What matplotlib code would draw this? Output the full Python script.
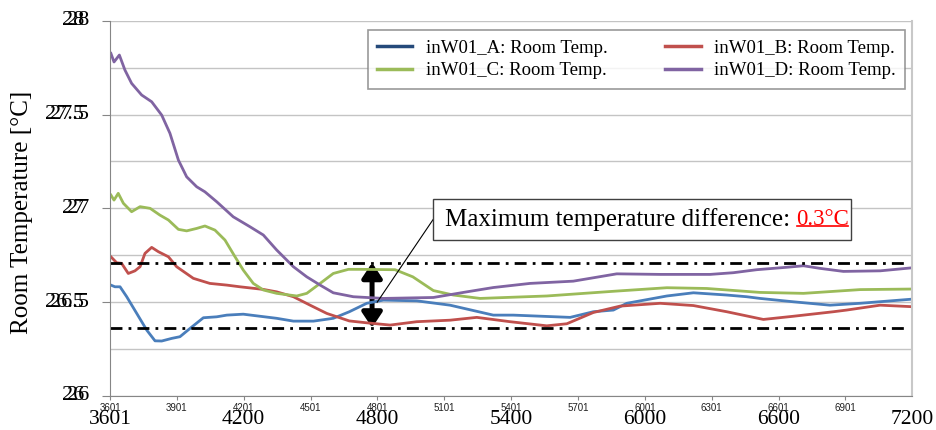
import numpy as np
import matplotlib
matplotlib.use("Agg")
import matplotlib.pyplot as plt
from matplotlib.lines import Line2D
from matplotlib.patches import Rectangle, FancyArrowPatch

# ---- data ----
t_a = [3605, 3623, 3646, 3676, 3721, 3766, 3803, 3833, 3878, 3915, 3960, 4020, 4080,
       4125, 4199, 4274, 4349, 4424, 4514, 4603, 4675, 4753, 4828, 4978, 5127, 5321,
       5411, 5666, 5770, 5860, 5920, 6040, 6100, 6219, 6369, 6458, 6518, 6668, 6832,
       6967, 7199]
temp_a = [26.591, 26.582, 26.582, 26.529, 26.440, 26.351, 26.294, 26.293, 26.307,
          26.316, 26.360, 26.417, 26.422, 26.431, 26.436, 26.425, 26.414, 26.399,
          26.399, 26.414, 26.449, 26.494, 26.511, 26.507, 26.484, 26.431, 26.431,
          26.419, 26.449, 26.458, 26.494, 26.520, 26.533, 26.550, 26.538, 26.529,
          26.520, 26.502, 26.484, 26.494, 26.516]

t_b = [3605, 3631, 3653, 3683, 3713, 3736, 3758, 3788, 3818, 3863, 3900, 3975, 4049,
       4125, 4184, 4289, 4349, 4424, 4499, 4574, 4675, 4753, 4858, 4978, 5127, 5247,
       5396, 5561, 5651, 5770, 5890, 6070, 6219, 6369, 6533, 6668, 6847, 6907, 7057,
       7199]
temp_b = [26.742, 26.710, 26.707, 26.653, 26.667, 26.689, 26.760, 26.792, 26.769,
          26.742, 26.689, 26.627, 26.600, 26.591, 26.582, 26.568, 26.555, 26.529,
          26.484, 26.440, 26.400, 26.390, 26.378, 26.396, 26.404, 26.419, 26.396,
          26.374, 26.385, 26.445, 26.479, 26.494, 26.482, 26.449, 26.408, 26.425,
          26.449, 26.458, 26.484, 26.476]

t_c = [3605, 3619, 3638, 3661, 3698, 3736, 3781, 3825, 3863, 3908, 3945, 3990, 4027,
       4072, 4117, 4162, 4199, 4244, 4289, 4349, 4439, 4484, 4544, 4603, 4671, 4723,
       4880, 4960, 5052, 5142, 5262, 5561, 5860, 6100, 6279, 6518, 6713, 6967, 7199]
temp_c = [27.071, 27.044, 27.080, 27.027, 26.982, 27.009, 27.000, 26.964, 26.938,
          26.888, 26.880, 26.893, 26.906, 26.884, 26.831, 26.742, 26.671, 26.600,
          26.565, 26.547, 26.533, 26.547, 26.600, 26.653, 26.675, 26.675, 26.673,
          26.635, 26.562, 26.538, 26.520, 26.533, 26.558, 26.577, 26.573, 26.552,
          26.547, 26.567, 26.570]

t_d = [3605, 3619, 3643, 3668, 3698, 3743, 3788, 3833, 3870, 3908, 3945, 3990, 4027,
       4080, 4154, 4229, 4289, 4349, 4424, 4484, 4544, 4603, 4693, 4828, 5052, 5202,
       5321, 5486, 5680, 5875, 6070, 6294, 6398, 6503, 6638, 6713, 6788, 6892, 7057,
       7199]
temp_d = [27.826, 27.780, 27.817, 27.737, 27.666, 27.604, 27.568, 27.497, 27.400,
          27.257, 27.168, 27.115, 27.088, 27.035, 26.955, 26.902, 26.858, 26.778,
          26.689, 26.635, 26.591, 26.550, 26.529, 26.520, 26.525, 26.555, 26.578,
          26.600, 26.612, 26.651, 26.648, 26.648, 26.657, 26.673, 26.686, 26.694,
          26.680, 26.664, 26.667, 26.683]

series_names = ["inW01_A: Room Temp.", "inW01_B: Room Temp.",
                "inW01_C: Room Temp.", "inW01_D: Room Temp."]
line_colors = ["#4a7ebb", "#c0504d", "#9bbb59", "#8064a2"]
legend_colors = ["#254a7a", "#c0504d", "#9bbb59", "#8064a2"]

upper_level = 26.71
lower_level = 26.364
arrow_t = 4777
small_ticks = np.arange(3601, 7200, 300)
big_ticks = [3601, 4200, 4800, 5400, 6000, 6600, 7200]
y_ticks = [26, 26.5, 27, 27.5, 28]
y_tick_text = ["26", "26.5", "27", "27.5", "28"]

serif = ["Liberation Serif", "DejaVu Serif"]

fig = plt.figure(figsize=(9.36, 4.30), dpi=100)
ax = fig.add_axes([110 / 936, 1 - 396 / 430, 802 / 936, (396 - 20.7) / 430])

ax.set_xlim(3601, 7200)
ax.set_ylim(26, 28)

# gridlines every 0.25
ax.set_yticks(np.arange(26, 28.01, 0.25), minor=True)
ax.grid(True, axis="y", which="both", color="#c4c4c4", linewidth=1.0)
ax.set_axisbelow(True)

for tt, vv, c in zip([t_a, t_b, t_c, t_d], [temp_a, temp_b, temp_c, temp_d], line_colors):
    ax.plot(tt, vv, color=c, linewidth=2.0, solid_joinstyle="round")

# dash-dot reference levels
for lv in (upper_level, lower_level):
    ax.plot([3601, 7170], [lv, lv], color="black", linewidth=2.0,
            linestyle=(0, (4.3, 2.2, 1.0, 2.2)))

# double-headed arrow
arr = FancyArrowPatch((arrow_t, lower_level), (arrow_t, upper_level),
                      arrowstyle="<|-|>,head_length=0.45,head_width=0.3",
                      mutation_scale=20, linewidth=3.6, color="black",
                      shrinkA=0, shrinkB=0)
ax.add_patch(arr)

# leader line and annotation box
box_y0, box_y1 = 26.831, 27.050
box_mid = (box_y0 + box_y1) / 2
ax.plot([4800, 5051], [26.5, box_mid], color="black", linewidth=0.8)
ax.add_patch(Rectangle((5051, box_y0), 6927 - 5051, box_y1 - box_y0,
                       facecolor="white", edgecolor="#404040", linewidth=1.0,
                       zorder=5))
t1 = ax.text(5105, box_mid, "Maximum temperature difference:", family=serif,
             fontsize=18, va="center", ha="left", zorder=6)
fig.canvas.draw()
r = fig.canvas.get_renderer()
bb = t1.get_window_extent(r)
inv = ax.transData.inverted()
x_end = inv.transform((bb.x1 + 6, bb.y0))[0]
t2 = ax.text(x_end, box_mid, "0.3\u00b0C", family=serif, fontsize=16.5,
             color="red", va="center", ha="left", zorder=6)
fig.canvas.draw()
bb2 = t2.get_window_extent(r)
(ux0, uy), (ux1, _) = inv.transform([(bb2.x0 + 1, bb2.y0 + 4), (bb2.x1 - 1, bb2.y0)])
ax.plot([ux0, ux1], [uy, uy], color="red", linewidth=1.2, zorder=7)

# axes styling
for s in ("left", "bottom"):
    ax.spines[s].set_color("#868686")
ax.spines["top"].set_visible(False)
ax.spines["right"].set_color("#c8c8c8")
ax.spines["right"].set_linewidth(1.5)

ax.set_yticks(y_ticks)
ax.set_yticklabels([])
ax.tick_params(axis="y", which="major", length=6, color="#868686", direction="out")
ax.tick_params(axis="y", which="minor", length=0)

ax.set_xticks(small_ticks)
ax.set_xticklabels([str(v) for v in small_ticks], fontsize=7,
                   family="Liberation Sans", color="#202020")
ax.tick_params(axis="x", length=3, color="#868686", pad=2)

# large secondary labels (drawn twice on y like the source chart)
for v in big_ticks:
    ax.text(v, -0.062, str(v), transform=ax.get_xaxis_transform(),
            family=serif, fontsize=15.5, ha="center", va="center")
for v, lab in zip(y_ticks, y_tick_text):
    ax.text(-0.026, v, lab, transform=ax.get_yaxis_transform(),
            family=serif, fontsize=16, ha="right", va="center")
    ax.text(-0.032, v, lab, transform=ax.get_yaxis_transform(),
            family=serif, fontsize=16, ha="right", va="center")

fig.text(22 / 936, 1 - 212 / 430, "Room Temperature [\u00b0C]", family=serif,
         fontsize=18, rotation=90, ha="center", va="center")

# legend order: row 1 = A, B ; row 2 = C, D (matplotlib fills by column)
order = [0, 2, 1, 3]
handles = [Line2D([], [], color=legend_colors[i], linewidth=2.5) for i in order]
labels = [series_names[i] for i in order]
leg = ax.legend(handles, labels, ncol=2, loc="upper right",
                bbox_to_anchor=(0.991, 0.975), borderaxespad=0,
                prop={"family": serif, "size": 13.5},
                frameon=True, fancybox=False, edgecolor="#808080",
                handlelength=1.87, columnspacing=3.1, borderpad=0.5,
                labelspacing=0.3, handletextpad=0.7)
leg.get_frame().set_linewidth(1.2)

fig.savefig("out.png", dpi=100)
